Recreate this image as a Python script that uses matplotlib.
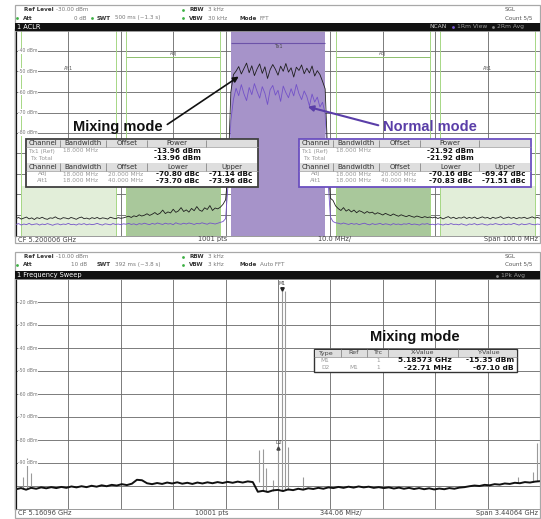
"""Two spectrum-analyzer screens: ACLR (mixing vs normal mode) and a wide frequency sweep."""
import numpy as np
import matplotlib.pyplot as plt
from matplotlib.patches import Rectangle

W, H = 541, 519
PURPLE = "#6b4fc0"
PURPLE_FILL = "#a693c9"
GREEN_DOT = "#3cb043"
GRID = "#666666"

# ---------------- data: ACLR screen (offset from CF in MHz) ----------------
tx_bw_mhz = 18.0
adj_offset_mhz = 20.0
alt_offset_mhz = 40.0
aclr_freq_mhz = np.linspace(-50, 50, 201)

mixing_dbm = [
    -121.8, -121.2, -122.0, -121.5, -121.0, -121.9, -121.4, -122.2, -121.3, -121.7,
    -121.1, -121.8, -122.1, -121.4, -121.6, -120.9, -121.7, -122.0, -121.3, -121.5,
    -121.9, -121.2, -121.6, -122.1, -121.4, -121.0, -121.8, -121.5, -122.0, -121.3,
    -121.7, -121.2, -121.9, -121.4, -121.6, -122.0, -121.1, -121.5, -121.8, -121.3,
    -121.6, -121.4,
    -121.0, -120.6, -121.2, -120.4, -120.8, -119.9, -120.5, -120.1, -119.4, -120.2,
    -119.6, -118.8, -119.8, -119.1, -117.6, -119.3, -118.5, -119.0, -117.2, -118.7,
    -118.0, -116.4, -118.3, -117.5, -118.6, -116.8, -117.9, -115.9, -117.6, -118.2,
    -116.5, -117.3, -115.4, -117.8, -116.6, -117.0,
    -116.2, -114.8, -112.6, -98.0,
    -60.0, -51.5, -49.8, -47.6, -51.2, -48.5, -45.9, -50.6, -47.2, -52.0,
    -48.8, -46.3, -50.9, -47.7, -53.4, -49.1, -46.6, -48.9, -51.8, -47.4,
    -49.9, -46.1, -50.3, -48.2, -52.7, -47.9, -49.5, -46.8, -51.1, -48.4,
    -50.7, -47.3, -52.2, -49.6, -51.5, -54.8, -58.5,
    -92.0, -111.8, -112.9, -115.6,
    -116.9, -117.8, -116.4, -118.1, -117.3, -118.5, -117.6, -118.9, -117.9, -118.4,
    -119.2, -118.3, -119.0, -118.6, -119.6, -118.9, -119.4, -120.0, -119.2, -119.8,
    -120.3, -119.5, -120.1, -120.6, -119.9, -120.4, -120.8, -120.2, -120.7, -121.1,
    -120.5, -120.9, -121.3, -120.8, -121.2, -121.0,
    -121.4, -121.0, -121.7, -121.2, -121.9, -121.3, -120.8, -121.6, -121.1, -121.8,
    -121.3, -121.5, -120.9, -121.7, -121.2, -121.6, -121.0, -121.8, -121.4, -120.9,
    -121.5, -121.2, -121.9, -121.1, -121.6, -121.3, -120.8, -121.7, -121.4, -121.0,
    -121.6, -121.2, -121.8, -121.3, -121.5, -121.1, -121.7, -121.4, -120.9, -121.5,
    -121.2, -121.6,
]

normal_dbm = [
    -124.6, -124.2, -124.9, -124.4, -124.7, -124.1, -124.8, -124.5, -124.3, -124.9,
    -124.4, -124.7, -124.2, -124.6, -125.0, -124.5, -124.3, -124.8, -124.4, -124.6,
    -124.1, -124.7, -124.5, -124.9, -124.3, -124.6, -124.2, -124.8, -124.4, -124.7,
    -124.5, -124.1, -124.6, -124.9, -124.3, -124.5, -124.8, -124.2, -124.6, -124.4,
    -124.7, -124.3,
    -124.5, -124.1, -124.6, -124.3, -124.8, -124.2, -124.5, -124.0, -124.4, -124.7,
    -124.1, -124.5, -123.9, -124.3, -124.6, -124.0, -124.4, -124.2, -124.7, -123.8,
    -124.3, -124.5, -124.0, -124.4, -123.9, -124.2, -124.6, -124.1, -124.3, -123.8,
    -124.2, -124.5, -123.9, -124.1, -124.4, -124.0,
    -123.6, -123.2, -121.8, -104.0,
    -74.0, -63.5, -58.2, -61.8, -56.4, -60.9, -64.2, -57.8, -61.3, -55.9,
    -59.7, -63.0, -57.4, -60.6, -66.1, -58.9, -56.8, -61.5, -59.2, -64.6,
    -57.1, -60.3, -62.8, -58.4, -61.9, -56.3, -60.8, -63.7, -59.5, -62.2,
    -66.8, -61.0, -64.9, -62.5, -67.3, -65.0, -70.5,
    -101.0, -121.0, -123.2, -123.8,
    -124.0, -124.4, -123.9, -124.3, -124.6, -124.1, -124.5, -124.2, -124.7, -124.3,
    -124.0, -124.5, -124.8, -124.2, -124.6, -124.4, -124.1, -124.7, -124.3, -124.5,
    -124.9, -124.2, -124.6, -124.4, -124.8, -124.3, -124.5, -124.1, -124.7, -124.4,
    -124.6, -124.9, -124.3, -124.5, -124.2, -124.7,
    -124.5, -124.8, -124.3, -124.6, -124.9, -124.4, -124.7, -124.2, -124.6, -124.5,
    -124.8, -124.3, -124.7, -125.0, -124.4, -124.6, -124.2, -124.8, -124.5, -124.3,
    -124.7, -124.9, -124.4, -124.6, -124.2, -124.5, -124.8, -124.3, -124.7, -124.4,
    -124.6, -124.1, -124.5, -124.9, -124.3, -124.7, -124.5, -124.2, -124.6, -124.8,
    -124.4, -124.6,
]

aclr_head1 = ["Channel", "Bandwidth", "Offset", "Power"]
aclr_head2 = ["Channel", "Bandwidth", "Offset", "Lower", "Upper"]
aclr_rows = ["Adj", "Alt1"]
aclr_offsets = ["20.000 MHz", "40.000 MHz"]
mixing_power = ["-13.96 dBm", "-13.96 dBm"]
mixing_aclr = [["-70.80 dBc", "-71.14 dBc"], ["-73.70 dBc", "-73.96 dBc"]]
normal_power = ["-21.92 dBm", "-21.92 dBm"]
normal_aclr = [["-70.16 dBc", "-69.47 dBc"], ["-70.83 dBc", "-71.51 dBc"]]

# ---------------- data: frequency sweep (GHz) ----------------
sweep_start, sweep_stop = 3.44064, 6.88128
sweep_ghz = np.linspace(sweep_start, sweep_stop, 105)
sweep_dbm = [
    -101.4, -100.9, -101.6, -100.8, -101.2, -100.6, -101.0, -100.5, -100.9, -100.4,
    -100.8, -100.2, -100.6, -100.1, -100.5, -99.9, -100.3, -99.7, -100.1, -99.5,
    -99.8, -99.2, -99.6, -99.0, -97.3, -97.5, -98.8, -99.2, -98.7, -99.1,
    -98.5, -98.9, -98.4, -99.0, -98.6, -99.1, -98.5, -98.9, -98.4, -98.8,
    -98.3, -98.7, -98.2, -98.6, -98.1, -98.5, -98.0, -98.3, -102.5, -102.1,
    -102.6, -101.9, -101.7, -102.2, -101.5, -101.8, -101.2, -101.6, -101.0, -101.3,
    -100.8, -101.2, -100.6, -100.9, -100.4, -100.8, -100.3, -100.7, -100.2, -100.6,
    -100.3, -100.8, -100.5, -100.9, -100.6, -101.1, -100.7, -101.2, -100.8, -101.3,
    -100.9, -101.4, -101.0, -101.5, -101.1, -101.4, -100.9, -101.2, -100.7, -100.5,
    -100.1, -99.8, -100.0, -99.5, -99.7, -99.2, -99.4, -98.9, -99.1, -98.6,
    -98.8, -98.3, -98.5, -98.1, -97.9,
]
spur_ghz = [3.4866, 3.5129, 3.5391, 5.0362, 5.0625, 5.0822, 5.1282, 5.1630,
            5.18573, 5.2069, 5.2265, 5.3248, 6.7338, 6.8323, 6.8585]
spur_dbm = [-96.1, -87.8, -94.3, -84.3, -83.9, -92.2, -97.4, -82.45,
            -15.35, -15.35, -83.0, -96.1, -96.1, -93.9, -81.3]
spur_base_dbm = [-101.2, -101.0, -100.8, -98.3, -102.3, -102.5, -102.0, -102.0,
                 -101.7, -101.7, -101.8, -101.2, -98.7, -98.2, -98.0]
m1_ghz, m1_dbm = 5.18573, -15.35
d2_ghz, d2_dbm = 5.16302, -82.45
marker_head = ["Type", "Ref", "Trc", "X-Value", "Y-Value"]
marker_rows = [["M1", "", "1", "5.18573 GHz", "-15.35 dBm"],
               ["D2", "M1", "1", "-22.71 MHz", "-67.10 dB"]]

assert len(mixing_dbm) == len(aclr_freq_mhz) == len(normal_dbm)
assert len(sweep_dbm) == len(sweep_ghz)

fig = plt.figure(figsize=(W / 100, H / 100), dpi=100, facecolor="white")


def px_axes(x0, y0, x1, y1, **kw):
    return fig.add_axes([x0 / W, 1 - y1 / H, (x1 - x0) / W, (y1 - y0) / H], **kw)


def style(ax, xt, yt):
    ax.set_xticks(xt)
    ax.set_yticks(yt)
    ax.tick_params(length=0, labelleft=False, labelbottom=False)
    ax.grid(True, color=GRID, lw=0.6)
    ax.set_axisbelow(True)
    for s in ax.spines.values():
        s.set_color("#8a8a8a")
        s.set_linewidth(0.6)
    ax.spines["left"].set_color("black")
    ax.spines["left"].set_linewidth(1.6)


def ylabels(ax, levels, x0):
    for lv in levels:
        ax.text(x0, lv, f"{lv} dBm", transform=ax.get_yaxis_transform(),
                fontsize=3.3, color="#777", va="center", ha="left", zorder=4,
                bbox=dict(fc="white", ec="none", pad=0.4))


# ---------------- top plot: ACLR ----------------
ax1 = px_axes(16, 30.5, 540, 235.5)
ax1.set_xlim(-50, 50)
ax1.set_ylim(-130, -30)
style(ax1, np.arange(-50, 51, 10), np.arange(-130, -29, 10))

half = tx_bw_mhz / 2
ax1.axvspan(-half, half, color=PURPLE_FILL, zorder=1.5, lw=0)
ax1.hlines(-35.9, -half, half, color="#6c52a8", lw=0.8, zorder=1.6)
ax1.text(0, -37.9, "Tx1", fontsize=3.3, color="#444", ha="center", va="center")
for sign in (-1, 1):
    adj = (sign * adj_offset_mhz - half, sign * adj_offset_mhz + half)
    alt = (sign * alt_offset_mhz - half, sign * alt_offset_mhz + half)
    ax1.fill_between(adj, -130, -106, color="#a9c89b", lw=0, zorder=1.2)
    ax1.fill_between(alt, -130, -106, color="#e2eed9", lw=0, zorder=1.2)
    for edge in adj + alt:
        ax1.axvline(edge, color="#a6d785", lw=0.7, zorder=1.3)
    ax1.hlines(-43.0, *adj, color="#8cbf6c", lw=0.7, zorder=1.3)
    ax1.text(sign * adj_offset_mhz, -41.4, "Adj", fontsize=3.3, color="#555",
             ha="center", va="center")
    ax1.text(sign * alt_offset_mhz, -48.6, "Alt1", fontsize=3.3, color="#555",
             ha="center", va="center")

ax1.plot(aclr_freq_mhz, normal_dbm, color="#7352c8", lw=0.6, zorder=3)
ax1.plot(aclr_freq_mhz, mixing_dbm, color="#1e1e1e", lw=0.6, zorder=3.1)
ylabels(ax1, [-40, -50, -60, -70, -80], 0.004)

# ---------------- bottom plot: frequency sweep ----------------
ax2 = px_axes(16, 279, 540, 509)
ax2.set_xlim(sweep_start, sweep_stop)
ax2.set_ylim(-110, -10)
style(ax2, np.linspace(sweep_start, sweep_stop, 11), np.arange(-110, -9, 10))
ax2.vlines(spur_ghz, spur_base_dbm, spur_dbm, color="#9a9a9a", lw=0.8, zorder=2)
ax2.plot(sweep_ghz, sweep_dbm, color="#111", lw=1.4, zorder=3)
ax2.plot(m1_ghz, m1_dbm + 1.2, marker="v", ms=2.5, color="#222", zorder=4)
ax2.text(m1_ghz, m1_dbm + 3.2, "M1", fontsize=3.3, color="#444", ha="center", va="center")
ax2.plot(d2_ghz, d2_dbm - 1.2, marker="^", ms=2.2, color="#444", zorder=4)
ax2.text(d2_ghz, d2_dbm + 1.3, "D2", fontsize=3.3, color="#444", ha="center", va="center")
ylabels(ax2, [-20, -30, -40, -50, -60, -70, -80, -90], 0.004)

# ---------------- overlay in pixel coordinates ----------------
ov = fig.add_axes([0, 0, 1, 1], zorder=10)
ov.set_xlim(0, W)
ov.set_ylim(H, 0)
ov.axis("off")


def t(x, y, s, size=4.1, color="#777", weight="normal", ha="left", **kw):
    ov.text(x, y, s, fontsize=size, color=color, fontweight=weight, ha=ha,
            va="center", **kw)


def dot(x, y, color=GREEN_DOT):
    ov.plot(x, y, "o", ms=2.0, color=color, mec="none")


def rect(x, y, w, h, **kw):
    ov.add_patch(Rectangle((x, y), w, h, **kw))


def header(y1, y2, ref, att, swt, vbw, mode, swt_dot):
    t(24, y1, "Ref Level", color="#333", weight="bold")
    t(56, y1, ref)
    dot(183, y1)
    t(189, y1, "RBW", color="#333", weight="bold")
    t(208, y1, "3 kHz")
    dot(17, y2)
    t(23, y2, "Att", color="#333", weight="bold")
    t(87, y2, att, ha="right")
    if swt_dot:
        dot(92, y2)
    t(97, y2, "SWT", color="#333", weight="bold")
    t(115, y2, swt)
    dot(183, y2)
    t(189, y2, "VBW", color="#333", weight="bold")
    t(208, y2, vbw)
    t(240, y2, "Mode", color="#333", weight="bold")
    t(260, y2, mode)
    t(505, y1, "SGL", color="#555")
    t(505, y2, "Count 5/5", color="#555")


# frames
rect(15, 5, 525, 238, fill=False, ec="#a8a8a8", lw=0.9)
rect(15, 252, 525, 266, fill=False, ec="#a8a8a8", lw=0.9)

# top header
header(9.5, 18, "-30.00 dBm", "0 dB", "500 ms (~1.3 s)", "30 kHz", "FFT", True)
rect(15, 23, 525, 7.5, color="#111", lw=0)
t(17, 26.8, "1 ACLR", size=4.8, color="white")
t(429, 26.8, "NCAN", size=4.3, color="#ccc")
dot(453, 26.8, color="#7b5ad6")
t(457, 26.8, "1Rm View", size=4.3, color="#999")
dot(493, 26.8, color="#888")
t(497, 26.8, "2Rm Avg", size=4.3, color="#999")

# bottom header
header(257, 264.5, "-10.00 dBm", "10 dB", "392 ms (~3.8 s)", "3 kHz", "Auto FFT", False)
rect(15, 270.5, 525, 8.5, color="#111", lw=0)
t(17, 274.8, "1 Frequency Sweep", size=4.8, color="white")
dot(497, 275.5, color="#888")
t(501, 275.5, "1Pk Avg", size=4.3, color="#999")

# footers
t(18, 239.5, "CF 5.200006 GHz", size=4.8, color="#444")
t(213, 239.5, "1001 pts", size=4.8, color="#444", ha="center")
t(335, 239.5, "10.0 MHz/", size=4.8, color="#444", ha="center")
t(538, 239.5, "Span 100.0 MHz", size=4.8, color="#444", ha="right")
t(18, 513, "CF 5.16096 GHz", size=4.8, color="#444")
t(212, 513, "10001 pts", size=4.8, color="#444", ha="center")
t(341, 513, "344.06 MHz/", size=4.8, color="#444", ha="center")
t(538, 513, "Span 3.44064 GHz", size=4.8, color="#444", ha="right")


def aclr_table(x0, border, power, aclr):
    y0, w = 139, 232
    rect(x0, y0, w, 48, fc="white", ec=border, lw=1.3)
    seps = [34, 80, 121, 180]
    for hy in (y0 + 0.7, y0 + 24):
        rect(x0 + 0.7, hy, w - 1.4, 7.6, fc="#dedede", ec="none")
        ov.hlines(hy + 7.6, x0, x0 + w, color="#999", lw=0.5)
        ov.vlines([x0 + s for s in seps], hy, hy + 7.6, color="#888", lw=0.6)
    for lab, cx in zip(aclr_head1, [17, 57, 101, 151]):
        t(x0 + cx, y0 + 4.3, lab, size=5.0, color="#333", ha="center")
    for lab, cx in zip(aclr_head2, [17, 57, 101, 152, 206]):
        t(x0 + cx, y0 + 27.6, lab, size=5.0, color="#333", ha="center")
    t(x0 + 2, y0 + 12, "Tx1 (Ref)", size=4.2, color="#999")
    t(x0 + 37, y0 + 12, "18.000 MHz", size=4.2, color="#999")
    t(x0 + 4, y0 + 19.5, "Tx Total", size=4.2, color="#999")
    for val, ry in zip(power, [y0 + 12, y0 + 19.5]):
        t(x0 + 151, ry, val, size=5.2, color="#111", weight="bold", ha="center")
    for i, (name, off) in enumerate(zip(aclr_rows, aclr_offsets)):
        ry = y0 + 35 + 7 * i
        t(x0 + 17, ry, name, size=4.2, color="#999", ha="center")
        t(x0 + 37, ry, "18.000 MHz", size=4.2, color="#999")
        t(x0 + 82, ry, off, size=4.2, color="#999")
        t(x0 + 152, ry, aclr[i][0], size=5.2, color="#111", weight="bold", ha="center")
        t(x0 + 205, ry, aclr[i][1], size=5.2, color="#111", weight="bold", ha="center")


aclr_table(26, "#404040", mixing_power, mixing_aclr)
aclr_table(299, PURPLE, normal_power, normal_aclr)

# marker table
mx0, my0, mw = 314, 349, 203
rect(mx0, my0, mw, 23, fc="white", ec="#333", lw=1.0)
rect(mx0 + 0.6, my0 + 0.6, mw - 1.2, 7, fc="#dedede", ec="none")
ov.hlines(my0 + 7.6, mx0, mx0 + mw, color="#888", lw=0.5)
ov.vlines([mx0 + s for s in (27, 53, 74, 144)], my0, my0 + 7.6, color="#888", lw=0.6)
for lab, cx in zip(marker_head, [11, 40, 64, 109, 174]):
    t(mx0 + cx, my0 + 4, lab, size=4.6, color="#444", ha="center")
for i, row in enumerate(marker_rows):
    ry = my0 + 11.5 + 7 * i
    t(mx0 + 11, ry, row[0], size=4.2, color="#999", ha="center")
    t(mx0 + 40, ry, row[1], size=4.2, color="#999", ha="center")
    t(mx0 + 64, ry, row[2], size=4.2, color="#999", ha="center")
    t(mx0 + 138, ry, row[3], size=5.4, color="#111", weight="bold", ha="right")
    t(mx0 + 200, ry, row[4], size=5.4, color="#111", weight="bold", ha="right")

# annotations
BIG = ["Liberation Sans", "DejaVu Sans"]
ov.text(118, 127, "Mixing mode", fontsize=10.5, fontweight="bold", color="#111",
        family=BIG, ha="center", va="center")
ov.annotate("", xy=(241, 75), xytext=(165, 126),
            arrowprops=dict(arrowstyle="-|>", color="#111", lw=1.2, mutation_scale=8))
ov.text(429.5, 127, "Normal mode", fontsize=10.5, fontweight="bold", color="#5a3ea8",
        family=BIG, ha="center", va="center")
ov.annotate("", xy=(305, 106), xytext=(381, 126),
            arrowprops=dict(arrowstyle="-|>", color="#5a3ea8", lw=1.5, mutation_scale=8))
ov.text(415, 337, "Mixing mode", fontsize=10.5, fontweight="bold", color="#111",
        family=BIG, ha="center", va="center")

fig.savefig("out.png", dpi=100, facecolor="white")
plt.close(fig)
